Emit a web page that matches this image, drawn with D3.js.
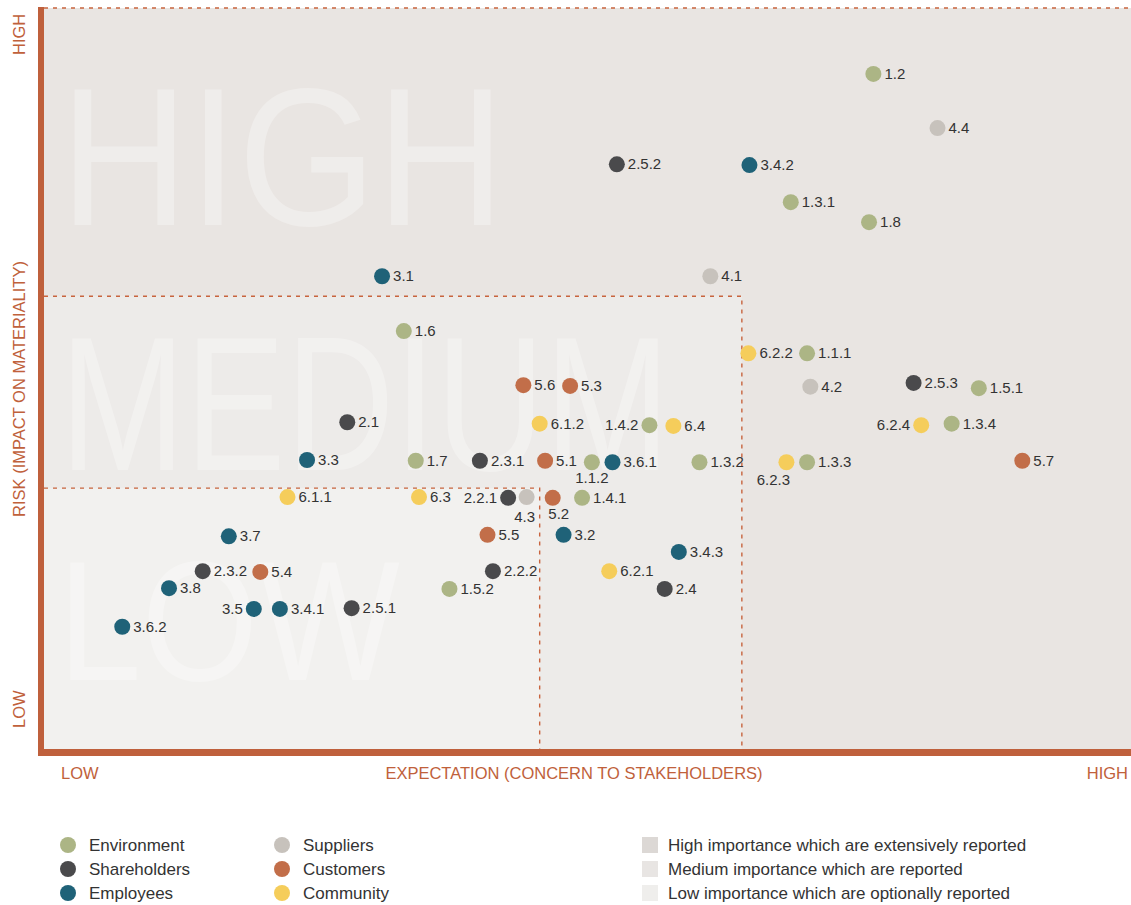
<!DOCTYPE html>
<meta charset="utf-8">
<style>
body { margin: 0; background: #fff; }
svg { font-family: "Liberation Sans", Arial, sans-serif; }
.axis-label { fill: #c0613b; font-size: 16.5px; }
.pt-label { fill: #333; font-size: 15px; }
.legend text { fill: #333; font-size: 17px; }
.big { fill: #fff; fill-opacity: 0.3; }
.divider { fill: none; stroke: #c8643e; stroke-width: 1.4; stroke-dasharray: 4,5; }
</style>
<svg width="1131" height="905"></svg>
<script src="https://cdn.jsdelivr.net/npm/d3@7"></script>
<script>

// categories
var groups = ["Environment", "Shareholders", "Employees", "Suppliers", "Customers", "Community"];
var groupColors = ["#acb585", "#4a4a4c", "#1f6278", "#c7c2bc", "#c26e49", "#f5cd5b"];

// topics: id, group, expectation (x), risk (y)  - scale 0..100
var ids    = ["1.2","4.4","2.5.2","3.4.2","1.3.1","1.8","3.1","4.1","1.6","6.2.2","1.1.1","5.6","5.3","2.5.3","4.2","1.5.1",
              "2.1","6.1.2","1.4.2","6.4","6.2.4","1.3.4","3.3","1.7","2.3.1","5.1","1.1.2","3.6.1","1.3.2","6.2.3","1.3.3","5.7",
              "6.1.1","6.3","2.2.1","4.3","5.2","1.4.1","5.5","3.2","3.7","3.4.3","2.3.2","5.4","2.2.2","6.2.1","3.8","1.5.2","2.4",
              "3.5","3.4.1","2.5.1","3.6.2"];
var groupOf = ["Environment","Suppliers","Shareholders","Employees","Environment","Environment","Employees","Suppliers","Environment","Community","Environment","Customers","Customers","Shareholders","Suppliers","Environment",
              "Shareholders","Community","Environment","Community","Community","Environment","Employees","Environment","Shareholders","Customers","Environment","Employees","Environment","Community","Environment","Customers",
              "Community","Community","Shareholders","Suppliers","Customers","Environment","Customers","Employees","Employees","Employees","Shareholders","Customers","Shareholders","Community","Employees","Environment","Shareholders",
              "Employees","Employees","Shareholders","Employees"];
var expectation = [76.3,82.2,52.7,64.9,68.7,75.9,31.1,61.3,33.1,64.8,70.2,44.1,48.4,80.0,70.5,86.0,
              27.9,45.6,55.7,57.9,80.7,83.5,24.2,34.2,40.1,46.1,50.4,52.3,60.3,68.3,70.2,90.0,
              22.4,34.5,42.7,44.4,46.8,49.5,40.8,47.8,17.0,58.4,14.6,19.9,41.3,52.0,11.5,37.3,57.1,
              19.3,21.7,28.3,7.2];
var risk = [91.1,83.8,78.9,78.8,73.8,71.1,63.8,63.8,56.4,53.4,53.4,49.1,49.0,49.4,48.9,48.7,
              44.1,43.9,43.7,43.6,43.7,43.9,39.0,38.9,38.9,38.9,38.7,38.7,38.7,38.7,38.7,38.9,
              34.0,34.0,33.9,34.0,33.9,33.9,28.9,28.9,28.7,26.6,24.0,23.9,24.0,24.0,21.7,21.6,21.6,
              18.9,18.9,19.0,16.5];

// label placement: left of the dot, or below it (others sit right)
var leftLabels = ["1.4.2", "6.2.4", "2.2.1", "3.5"];
var belowOffset = { "1.1.2": [0, 21], "6.2.3": [-13, 23], "4.3": [-2, 25], "5.2": [6, 21] };

// zone limits (same 0..100 units)
var zones = [
  { name: "HIGH",   xMax: 100,  yMax: 100 },
  { name: "MEDIUM", xMax: 64.2, yMax: 61.1 },
  { name: "LOW",    xMax: 45.6, yMax: 35.2 }
];
var zoneFills = ["#e9e5e2", "#edebe9", "#f2f1ef"];
var zoneLegend = ["High importance which are extensively reported",
                  "Medium importance which are reported",
                  "Low importance which are optionally reported"];
var legendSquares = ["#dcd8d5", "#e8e5e3", "#efeeec"];

var svg = d3.select("svg");

var x = d3.scaleLinear().domain([0, 100]).range([44, 1131]);
var y = d3.scaleLinear().domain([0, 100]).range([749, 8]);
var color = d3.scaleOrdinal().domain(groups).range(groupColors);

var data = ids.map(function(id, i) {
  return { id: id, group: groupOf[i], x: expectation[i], y: risk[i] };
});

// zone backgrounds
svg.append("g").selectAll("rect")
    .data(zones)
  .enter().append("rect")
    .attr("x", x(0))
    .attr("y", function(d) { return y(d.yMax); })
    .attr("width", function(d) { return x(d.xMax) - x(0); })
    .attr("height", function(d) { return y(0) - y(d.yMax); })
    .attr("fill", function(d, i) { return zoneFills[i]; });

// huge watermark words
var bigPos = [
  { x: 60, y: 225, len: 445, size: 196 },
  { x: 60, y: 470, len: 610, size: 192 },
  { x: 58, y: 680, len: 342, size: 170 }
];
svg.append("g").selectAll("text")
    .data(zones)
  .enter().append("text")
    .attr("class", "big")
    .attr("x", function(d, i) { return bigPos[i].x; })
    .attr("y", function(d, i) { return bigPos[i].y; })
    .attr("textLength", function(d, i) { return bigPos[i].len; })
    .attr("lengthAdjust", "spacingAndGlyphs")
    .style("font-size", function(d, i) { return bigPos[i].size + "px"; })
    .text(function(d) { return d.name; });

// dashed zone borders
svg.append("g").selectAll("path")
    .data(zones)
  .enter().append("path")
    .attr("class", "divider")
    .attr("d", function(d) {
      if (d.xMax === 100) return "M" + x(0) + "," + y(100) + "H" + x(100);
      return "M" + x(0) + "," + y(d.yMax) + "H" + x(d.xMax) + "V" + y(0);
    });

// axis bars
svg.append("rect").attr("x", 38).attr("y", 7).attr("width", 6).attr("height", y(0)).attr("fill", "#bf603c");
svg.append("rect").attr("x", 38).attr("y", y(0)).attr("width", 1131 - 38).attr("height", 7).attr("fill", "#bf603c");

// axis texts
svg.append("text").attr("class", "axis-label").attr("x", 61).attr("y", 779).text("LOW");
svg.append("text").attr("class", "axis-label").attr("x", 574).attr("y", 779)
    .attr("text-anchor", "middle").text("EXPECTATION (CONCERN TO STAKEHOLDERS)");
svg.append("text").attr("class", "axis-label").attr("x", 1128).attr("y", 779)
    .attr("text-anchor", "end").text("HIGH");

svg.append("text").attr("class", "axis-label").attr("transform", "translate(25,55) rotate(-90)").text("HIGH");
svg.append("text").attr("class", "axis-label").attr("transform", "translate(25,389) rotate(-90)")
    .attr("text-anchor", "middle").text("RISK (IMPACT ON MATERIALITY)");
svg.append("text").attr("class", "axis-label").attr("transform", "translate(25,728) rotate(-90)").text("LOW");

// points
var pts = svg.append("g").selectAll("g")
    .data(data)
  .enter().append("g")
    .attr("transform", function(d) { return "translate(" + x(d.x) + "," + y(d.y) + ")"; });

pts.append("circle")
    .attr("r", 8)
    .attr("fill", function(d) { return color(d.group); });

pts.append("text")
    .attr("class", "pt-label")
    .attr("x", function(d) {
      if (leftLabels.indexOf(d.id) >= 0) return -11;
      if (belowOffset[d.id]) return belowOffset[d.id][0];
      return 11;
    })
    .attr("y", function(d) { return belowOffset[d.id] ? belowOffset[d.id][1] : 5; })
    .attr("text-anchor", function(d) {
      if (leftLabels.indexOf(d.id) >= 0) return "end";
      if (belowOffset[d.id]) return "middle";
      return "start";
    })
    .text(function(d) { return d.id; });

// legend: stakeholder groups
var legend = svg.append("g").attr("class", "legend");
var lg = legend.selectAll("g.grp")
    .data(groups)
  .enter().append("g")
    .attr("class", "grp")
    .attr("transform", function(d, i) {
      return "translate(" + (i < 3 ? 68 : 282) + "," + (845 + (i % 3) * 24) + ")";
    });
lg.append("circle").attr("r", 8).attr("fill", function(d) { return color(d); });
lg.append("text").attr("x", 21).attr("y", 6).text(function(d) { return d; });

// legend: zones
var lz = legend.selectAll("g.zone")
    .data(zoneLegend)
  .enter().append("g")
    .attr("class", "zone")
    .attr("transform", function(d, i) { return "translate(642," + (845 + i * 24) + ")"; });
lz.append("rect").attr("x", 0).attr("y", -8).attr("width", 16).attr("height", 16)
    .attr("fill", function(d, i) { return legendSquares[i]; });
lz.append("text").attr("x", 26).attr("y", 6).text(function(d) { return d; });

</script>
